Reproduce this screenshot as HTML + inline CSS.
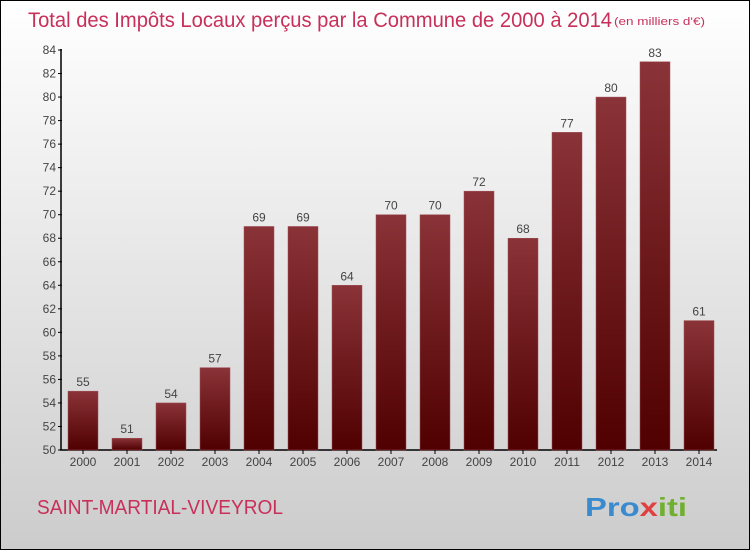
<!DOCTYPE html>
<html><head><meta charset="utf-8"><style>
body{margin:0}
#c{position:relative;width:748px;height:548px;border:1px solid #000;background:linear-gradient(#ffffff,#cccccc);overflow:hidden;font-family:"Liberation Sans",sans-serif}
</style></head><body>
<div id="c">
<svg id="s" width="748" height="548">
<defs><linearGradient id="bg" x1="0" y1="0" x2="0" y2="1"><stop offset="0" stop-color="#8a3338"/><stop offset="1" stop-color="#500000"/></linearGradient></defs>
<text x="27" y="26" font-size="21" fill="#c8305a" textLength="584" lengthAdjust="spacingAndGlyphs">Total des Impôts Locaux perçus par la Commune de 2000 à 2014</text>
<text x="613" y="24" font-size="11" fill="#c8305a" textLength="91" lengthAdjust="spacingAndGlyphs">(en milliers d'€)</text>
<text x="36" y="513" font-size="20" fill="#c8305a" textLength="246" lengthAdjust="spacingAndGlyphs">SAINT-MARTIAL-VIVEYROL</text>
<text x="584" y="515" font-size="26" font-weight="bold" fill="#f0a020" textLength="102" lengthAdjust="spacingAndGlyphs"><tspan fill="#3a8ad0">Pro</tspan><tspan fill="#e04040">x</tspan><tspan fill="#70b030">iti</tspan></text>
<g id="g"></g>
</svg>
</div>
<script>
const years=["2000","2001","2002","2003","2004","2005","2006","2007","2008","2009","2010","2011","2012","2013","2014"];
const values=[55,51,54,57,69,69,64,70,70,72,68,77,80,83,61];
const yTicks=[50,52,54,56,58,60,62,64,66,68,70,72,74,76,78,80,82,84];
const NS="http://www.w3.org/2000/svg";
const g=document.getElementById('g');
const y0=449,ymin=50,ymax=84,ytop=49;
const Y=v=>y0-(v-ymin)*(y0-ytop)/(ymax-ymin);
const X=i=>82+i*44;
function mk(t,a){const e=document.createElementNS(NS,t);for(const k in a)e.setAttribute(k,a[k]);g.appendChild(e);return e;}
let ax=mk('line',{x1:60,y1:Y(84)-1,x2:60,y2:y0,stroke:'#000','stroke-width':1.5});


let bx=mk('line',{x1:59,y1:y0,x2:716,y2:y0,stroke:'#000','stroke-width':1.5});


yTicks.forEach(v=>{
 const tk=mk('line',{x1:57,x2:61,y1:Y(v),y2:Y(v),stroke:'#000'});
 
 
 const t=mk('text',{x:55,y:Y(v)+4,'text-anchor':'end','font-size':12,fill:'#444'});
 t.textContent=v;
 
 
});
years.forEach((yr,i)=>{
 const v=values[i],cx=X(i);
 const r=mk('rect',{x:cx-15,y:Y(v),width:30,height:y0-Y(v),fill:'url(#bg)',stroke:'#a05058','stroke-width':0.5});
 
 
 const l=mk('text',{x:cx,y:Y(v)-5,'text-anchor':'middle','font-size':12,fill:'#444'});
 l.textContent=v;
 
 
 const xt=mk('line',{x1:cx,x2:cx,y1:y0,y2:y0+4,stroke:'#000'});
 
 
 const xl=mk('text',{x:cx,y:y0+16,'text-anchor':'middle','font-size':12,fill:'#444'});
 xl.textContent=yr;
 
 
});
</script>
</body></html>
